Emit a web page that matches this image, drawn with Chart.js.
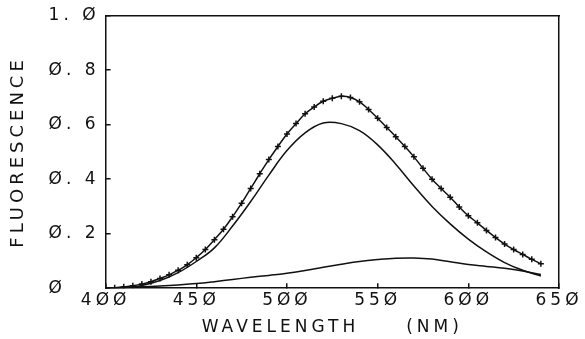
<!DOCTYPE html>
<html>
<head>
<meta charset="utf-8">
<script src="https://cdn.jsdelivr.net/npm/chart.js@4.4.1/dist/chart.umd.min.js"></script>
<style>
  html, body { margin: 0; padding: 0; background: #ffffff; }
  #wrap { width: 585px; height: 339px; }
</style>
</head>
<body>
<div id="wrap"><canvas id="c" width="585" height="339"></canvas></div>
<script>
// ---- data ----
const markerWavelength = [400,405,410,415,420,425,430,435,440,445,450,455,460,465,470,475,480,485,490,495,500,505,510,515,520,525,530,535,540,545,550,555,560,565,570,575,580,585,590,595,600,605,610,615,620,625,630,635,640];
const totalFluorescence = [0.000,0.002,0.005,0.009,0.015,0.024,0.036,0.049,0.066,0.086,0.112,0.142,0.178,0.216,0.262,0.312,0.366,0.420,0.472,0.520,0.566,0.604,0.640,0.665,0.686,0.697,0.704,0.700,0.684,0.656,0.624,0.590,0.556,0.520,0.482,0.440,0.400,0.366,0.334,0.298,0.266,0.240,0.212,0.186,0.162,0.142,0.124,0.106,0.090];

const wavelength = [400,410,420,430,440,450,460,470,480,490,500,510,520,530,540,550,560,570,580,590,600,610,620,630,640];
const componentMain = [0.000,0.002,0.010,0.028,0.057,0.098,0.148,0.228,0.318,0.415,0.505,0.570,0.606,0.604,0.578,0.526,0.455,0.375,0.300,0.236,0.180,0.133,0.094,0.066,0.045];
const componentMinor = [0.000,0.002,0.005,0.008,0.012,0.017,0.024,0.032,0.040,0.047,0.055,0.065,0.077,0.088,0.098,0.105,0.110,0.111,0.107,0.097,0.087,0.080,0.073,0.063,0.050];

const xTickValues = [400,450,500,550,600,650];
const xTickLabels = ['4ØØ','45Ø','5ØØ','55Ø','6ØØ','65Ø'];
const yTickValues = [0,0.2,0.4,0.6,0.8,1.0];
const yTickLabels = ['Ø','Ø. 2','Ø. 4','Ø. 6','Ø. 8','1. Ø'];
const xTitle = 'WAVELENGTH     (NM)';
const yTitle = 'FLUORESCENCE';

// ---- chart ----
const ink = '#111111';
const FONT = "'DejaVu Sans', sans-serif";

const toXY = (xs, ys) => xs.map((x, i) => ({ x: x, y: ys[i] }));

const spacingPlugin = {
  id: 'letterSpacing',
  beforeUpdate(chart) { chart.ctx.letterSpacing = '4px'; },
  beforeLayout(chart) { chart.ctx.letterSpacing = '4px'; },
  beforeDraw(chart) { chart.ctx.letterSpacing = '4px'; }
};

new Chart(document.getElementById('c'), {
  type: 'line',
  data: {
    datasets: [
      {
        label: 'total',
        data: toXY(markerWavelength, totalFluorescence),
        borderColor: ink,
        borderWidth: 1.5,
        tension: 0.4,
        pointStyle: 'cross',
        pointRadius: 3,
        pointBorderWidth: 1.5,
        pointBorderColor: ink,
        fill: false
      },
      {
        label: 'main',
        data: toXY(wavelength, componentMain),
        borderColor: ink,
        borderWidth: 1.5,
        tension: 0.4,
        pointRadius: 0,
        fill: false
      },
      {
        label: 'minor',
        data: toXY(wavelength, componentMinor),
        borderColor: ink,
        borderWidth: 1.5,
        tension: 0.4,
        pointRadius: 0,
        fill: false
      }
    ]
  },
  options: {
    responsive: false,
    animation: false,
    devicePixelRatio: 1,
    layout: { padding: { left: 4, right: 26, top: 12, bottom: 0 } },
    plugins: { legend: { display: false }, tooltip: { enabled: false } },
    scales: {
      x: {
        type: 'linear',
        position: 'bottom',
        min: 400, max: 650,
        afterBuildTicks(scale) { scale.ticks = xTickValues.map(v => ({ value: v })); },
        afterFit(scale) { scale.paddingRight = 0; },
        ticks: {
          color: ink,
          font: { family: FONT, size: 17 },
          padding: 7,
          maxRotation: 0,
          autoSkip: false,
          callback(value) { const i = xTickValues.indexOf(value); return i >= 0 ? xTickLabels[i] : ''; }
        },
        grid: { drawOnChartArea: false, drawTicks: true, tickLength: -5, color: ink, lineWidth: 1.5 },
        border: { display: true, color: ink, width: 1.5 },
        title: { display: true, text: xTitle, color: ink, font: { family: FONT, size: 17 }, padding: { top: 0, bottom: 1 } }
      },
      y: {
        type: 'linear',
        position: 'left',
        weight: 0,
        min: 0, max: 1,
        afterBuildTicks(scale) { scale.ticks = yTickValues.map(v => ({ value: v })); },
        ticks: {
          color: ink,
          font: { family: FONT, size: 17 },
          padding: 5.5,
          crossAlign: 'far',
          autoSkip: false,
          callback(value) { const i = yTickValues.findIndex(v => Math.abs(v - value) < 1e-9); return i >= 0 ? yTickLabels[i] : ''; }
        },
        grid: { drawOnChartArea: false, drawTicks: true, tickLength: -5, color: ink, lineWidth: 1.5 },
        border: { display: true, color: ink, width: 1.5 }
      },
      yTitleAxis: {
        type: 'linear',
        position: 'left',
        weight: 1,
        min: 0, max: 1,
        ticks: { display: false },
        grid: { display: false, drawOnChartArea: false, drawTicks: false },
        border: { display: false },
        title: { display: true, text: yTitle, color: ink, font: { family: FONT, size: 18 }, padding: { top: 4, bottom: 19 } }
      },
      x2: {
        type: 'linear',
        position: 'top',
        min: 400, max: 650,
        ticks: { display: false },
        grid: { drawOnChartArea: false, drawTicks: false },
        border: { display: true, color: ink, width: 1.5 }
      },
      y2: {
        type: 'linear',
        position: 'right',
        min: 0, max: 1,
        ticks: { display: false },
        grid: { drawOnChartArea: false, drawTicks: false },
        border: { display: true, color: ink, width: 1.5 }
      }
    }
  },
  plugins: [spacingPlugin]
});
</script>
</body>
</html>
